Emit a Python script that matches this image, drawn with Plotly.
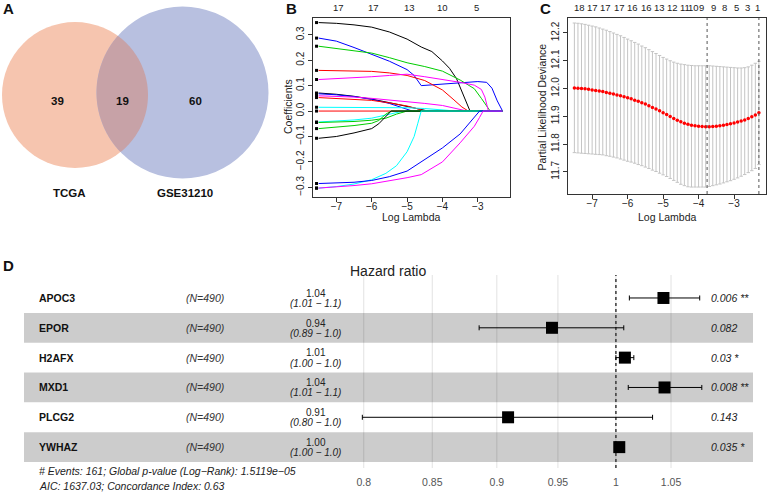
import math
import plotly.graph_objects as go

W, H = 768, 493
FONT = "Liberation Sans, Arial, Helvetica, sans-serif"

# ---------------- Panel A: Venn ----------------
venn_labels = ["TCGA", "GSE31210"]
venn_counts = [39, 19, 60]          # TCGA only, shared, GSE31210 only

# ---------------- Panel B: LASSO coefficient paths ----------------
lasso_x = [
    [-7.5, -7.0, -6.5, -6.0, -5.5, -5.0, -4.6, -4.3, -4.0, -3.8, -3.6, -3.45, -3.3, -3.22, -2.3],
    [-7.5, -7.0, -6.5, -6.0, -5.5, -5.0, -4.8, -4.6, -4.5, -4.0, -3.5, -3.0, -2.75, -2.6, -2.45, -2.3],
    [-7.5, -7.0, -6.5, -6.0, -5.5, -5.0, -4.5, -4.0, -3.5, -3.1, -2.9, -2.65, -2.3],
    [-7.5, -7.0, -6.5, -6.0, -5.5, -5.0, -4.5, -4.0, -3.7, -3.45, -3.27, -2.3],
    [-7.5, -7.0, -6.5, -6.0, -5.5, -5.0, -4.5, -4.0, -3.5, -3.1, -2.9, -2.8, -2.7, -2.3],
    [-7.5, -7.0, -6.5, -6.0, -5.5, -5.0, -4.7, -4.4, -2.3],
    [-7.5, -7.0, -6.5, -6.0, -5.5, -5.2, -4.85, -2.3],
    [-7.5, -7.0, -6.5, -6.0, -5.5, -5.0, -4.5, -4.0, -3.6, -3.3, -2.3],
    [-7.5, -7.0, -6.5, -6.0, -5.5, -5.0, -4.6, -4.5, -2.3],
    [-7.5, -6.0, -5.0, -4.5, -4.0, -3.6, -2.3],
    [-7.5, -2.3],
    [-7.5, -7.0, -6.5, -6.0, -5.6, -5.3, -5.1, -2.3],
    [-7.5, -7.0, -6.5, -6.0, -5.6, -5.3, -5.0, -2.3],
    [-7.5, -7.0, -6.5, -6.0, -5.8, -5.6, -5.45, -2.3],
    [-7.5, -7.0, -6.5, -6.0, -5.8, -5.6, -5.45, -2.3],
    [-7.5, -7.0, -6.5, -6.0, -5.6, -5.3, -5.0, -4.8, -4.7, -4.6, -2.3],
    [-7.5, -7.0, -6.5, -6.0, -5.5, -5.0, -4.6, -4.0, -3.5, -3.2, -2.95, -2.3],
    [-7.5, -7.0, -6.5, -6.0, -5.5, -5.0, -4.6, -4.0, -3.5, -3.1, -2.95, -2.85, -2.3],
]
lasso_y = [
    [0.348, 0.345, 0.339, 0.330, 0.311, 0.283, 0.252, 0.234, 0.197, 0.168, 0.127, 0.078, 0.025, 0.0, 0.0],
    [0.287, 0.275, 0.250, 0.224, 0.196, 0.163, 0.140, 0.100, 0.101, 0.107, 0.112, 0.116, 0.113, 0.090, 0.040, 0.0],
    [0.255, 0.247, 0.238, 0.228, 0.210, 0.190, 0.175, 0.157, 0.122, 0.088, 0.050, 0.0, 0.0],
    [0.160, 0.159, 0.158, 0.156, 0.150, 0.140, 0.120, 0.083, 0.047, 0.016, 0.0, 0.0],
    [0.124, 0.127, 0.131, 0.135, 0.140, 0.145, 0.135, 0.125, 0.113, 0.102, 0.085, 0.055, 0.0, 0.0],
    [0.071, 0.066, 0.058, 0.047, 0.033, 0.018, 0.010, 0.0, 0.0],
    [0.068, 0.064, 0.057, 0.046, 0.030, 0.015, 0.0, 0.0],
    [0.060, 0.058, 0.055, 0.050, 0.044, 0.037, 0.030, 0.022, 0.010, 0.0, 0.0],
    [0.053, 0.050, 0.047, 0.042, 0.032, 0.020, 0.005, 0.0, 0.0],
    [0.015, 0.014, 0.013, 0.010, 0.006, 0.0, 0.0],
    [0.0, 0.0],
    [-0.043, -0.040, -0.035, -0.028, -0.015, -0.004, 0.0, 0.0],
    [-0.045, -0.044, -0.041, -0.036, -0.028, -0.012, 0.0, 0.0],
    [-0.069, -0.064, -0.057, -0.048, -0.037, -0.012, 0.0, 0.0],
    [-0.107, -0.100, -0.086, -0.069, -0.050, -0.020, 0.0, 0.0],
    [-0.303, -0.297, -0.287, -0.270, -0.245, -0.215, -0.160, -0.100, -0.050, 0.0, 0.0],
    [-0.285, -0.283, -0.280, -0.273, -0.258, -0.236, -0.200, -0.145, -0.090, -0.040, 0.0, 0.0],
    [-0.303, -0.299, -0.293, -0.286, -0.275, -0.262, -0.250, -0.200, -0.125, -0.060, -0.025, 0.0, 0.0],
]
lasso_colors = ["black", "blue", "#00CD00", "red", "magenta", "black", "blue", "magenta",
                "red", "cyan", "red", "cyan", "#00CD00", "#00CD00", "black", "cyan", "blue", "magenta"]
lasso_top_pos = [-6.94, -5.96, -4.92, -3.99, -3.03]
lasso_top_df = ["17", "17", "13", "10", "5"]

# ---------------- Panel C: cross-validation curve ----------------
cv_loglambda = [-7.5, -7.4, -7.3, -7.2, -7.1, -7.0, -6.9, -6.8, -6.7, -6.6,
                -6.5, -6.4, -6.3, -6.2, -6.1, -6.0, -5.9, -5.8, -5.7, -5.6,
                -5.5, -5.4, -5.3, -5.2, -5.1, -5.0, -4.9, -4.8, -4.7, -4.6,
                -4.5, -4.4, -4.3, -4.2, -4.1, -4.0, -3.9, -3.8, -3.7, -3.6,
                -3.5, -3.4, -3.3, -3.2, -3.1, -3.0, -2.9, -2.8, -2.7, -2.6,
                -2.5, -2.4, -2.3]
cv_mean = [12.002, 12.001, 12.000, 11.999, 11.997, 11.995, 11.993, 11.991, 11.989, 11.986,
           11.983, 11.980, 11.977, 11.974, 11.970, 11.967, 11.963, 11.958, 11.954, 11.949,
           11.944, 11.938, 11.932, 11.926, 11.920, 11.913, 11.906, 11.899, 11.892, 11.886,
           11.880, 11.875, 11.871, 11.868, 11.866, 11.864, 11.863, 11.862, 11.862, 11.863,
           11.864, 11.866, 11.868, 11.870, 11.873, 11.876, 11.879, 11.883, 11.887, 11.892,
           11.898, 11.905, 11.913]
cv_upper = [12.236, 12.235, 12.233, 12.231, 12.228, 12.225, 12.222, 12.218, 12.214, 12.210,
            12.205, 12.200, 12.195, 12.190, 12.184, 12.178, 12.172, 12.166, 12.160, 12.153,
            12.147, 12.140, 12.133, 12.126, 12.119, 12.112, 12.106, 12.100, 12.095, 12.091,
            12.088, 12.086, 12.084, 12.083, 12.082, 12.082, 12.082, 12.082, 12.082, 12.081,
            12.080, 12.079, 12.078, 12.077, 12.076, 12.075, 12.074, 12.074, 12.075, 12.078,
            12.084, 12.091, 12.098]
cv_lower = [11.769, 11.768, 11.767, 11.766, 11.765, 11.764, 11.763, 11.762, 11.761, 11.758,
            11.756, 11.753, 11.750, 11.746, 11.742, 11.738, 11.735, 11.731, 11.726, 11.722,
            11.717, 11.712, 11.706, 11.701, 11.695, 11.689, 11.683, 11.676, 11.669, 11.662,
            11.655, 11.650, 11.646, 11.645, 11.645, 11.645, 11.645, 11.645, 11.647, 11.650,
            11.653, 11.656, 11.660, 11.664, 11.668, 11.673, 11.678, 11.684, 11.690, 11.697,
            11.704, 11.712, 11.726]
cv_top_pos = [-7.37, -6.98, -6.61, -6.23, -5.85, -5.48, -5.10, -4.73, -4.38, -4.13,
              -3.93, -3.58, -3.27, -2.94, -2.63, -2.33]
cv_top_nz = ["18", "17", "17", "17", "16", "16", "13", "12", "11", "10",
             "9", "9", "8", "5", "3", "1"]
log_lambda_min = -3.76
log_lambda_1se = -2.30

# ---------------- Panel D: forest plot ----------------
genes = ["APOC3", "EPOR", "H2AFX", "MXD1", "PLCG2", "YWHAZ"]
n_text = ["(N=490)", "(N=490)", "(N=490)", "(N=490)", "(N=490)", "(N=490)"]
hr = [1.043, 0.945, 1.008, 1.044, 0.909, 1.003]
ci_low = [1.012, 0.886, 1.000, 1.011, 0.799, 1.001]
ci_high = [1.077, 1.007, 1.016, 1.079, 1.033, 1.005]
hr_text = ["1.04", "0.94", "1.01", "1.04", "0.91", "1.00"]
ci_text = ["(1.01 − 1.1)", "(0.89 − 1.0)", "(1.00 − 1.0)", "(1.01 − 1.1)", "(0.80 − 1.0)", "(1.00 − 1.0)"]
p_text = ["0.006 **", "0.082", "0.03 *", "0.008 **", "0.143", "0.035 *"]
forest_ticks = [0.8, 0.85, 0.9, 0.95, 1, 1.05]
forest_ticktext = ["0.8", "0.85", "0.9", "0.95", "1", "1.05"]
footer_lines = ["# Events: 161; Global p-value (Log−Rank): 1.5119e−05",
                "AIC: 1637.03; Concordance Index: 0.63"]


def px(x):
    return x / W


def py(y):
    return 1 - y / H


def dom_x(a, b):
    return [a / W, b / W]


def dom_y(top, bottom):
    return [1 - bottom / H, 1 - top / H]


def note(x, y, text, size=10.5, color="#222", xref="paper", yref="paper", xanchor="center", **kw):
    return dict(x=x, y=y, xref=xref, yref=yref, text=text, showarrow=False,
                xanchor=xanchor, yanchor="middle",
                font=dict(size=size, color=color, family=FONT), **kw)


fig = go.Figure()
shapes = []
ann = []

# ---- Panel A ----
c1 = (75.0, 95.0, 73.0)
c2 = (182.5, 92.5, 86.0)
col_left = "#F6C5AF"
col_right = "#B8C0E0"
col_both = "#C7A2A7"
for (cx, cy, r), col in [(c1, col_left), (c2, col_right)]:
    shapes.append(dict(type="circle", xref="x", yref="y", x0=cx - r, x1=cx + r,
                       y0=cy - r, y1=cy + r, fillcolor=col, line=dict(width=0), layer="below"))
dx, dy = c2[0] - c1[0], c2[1] - c1[1]
d = math.hypot(dx, dy)
a = (c1[2] ** 2 - c2[2] ** 2 + d ** 2) / (2 * d)
th1 = math.acos(a / c1[2])
th2 = math.acos((d - a) / c2[2])
alpha = math.atan2(dy, dx)
beta = alpha + math.pi
pts = []
n = 60
for i in range(n + 1):
    phi = alpha - th1 + 2 * th1 * i / n
    pts.append((c1[0] + c1[2] * math.cos(phi), c1[1] + c1[2] * math.sin(phi)))
for i in range(n + 1):
    phi = beta - th2 + 2 * th2 * i / n
    pts.append((c2[0] + c2[2] * math.cos(phi), c2[1] + c2[2] * math.sin(phi)))
path = "M " + " L ".join(f"{x:.2f},{y:.2f}" for x, y in pts) + " Z"
shapes.append(dict(type="path", xref="x", yref="y", path=path, fillcolor=col_both,
                   line=dict(width=0), layer="below"))

count_x = [c1[0] - 18, (c1[0] + c1[2] + c2[0] - c2[2]) / 2, c2[0] + 13]
for xx, v in zip(count_x, venn_counts):
    ann.append(note(xx, 101, f"<b>{v}</b>", size=11.5, color="#111", xref="x", yref="y"))
for xx, lab in zip([69, 185], venn_labels):
    ann.append(note(xx, 193, f"<b>{lab}</b>", size=11.5, color="#111", xref="x", yref="y"))
fig.add_trace(go.Scatter(x=[0], y=[0], mode="markers", marker=dict(opacity=0),
                         xaxis="x", yaxis="y", hoverinfo="skip", showlegend=False))

# ---- Panel B ----
for xs, ys, col in zip(lasso_x, lasso_y, lasso_colors):
    fig.add_trace(go.Scatter(x=xs, y=ys, mode="lines", line=dict(color=col, width=1),
                             xaxis="x2", yaxis="y2", showlegend=False, hoverinfo="skip"))
fig.add_trace(go.Scatter(x=[xs[0] - 0.06 for xs in lasso_x], y=[ys[0] for ys in lasso_y],
                         mode="markers", marker=dict(symbol="square", size=3, color="black"),
                         xaxis="x2", yaxis="y2", showlegend=False, hoverinfo="skip"))
for pos, t in zip(lasso_top_pos, lasso_top_df):
    ann.append(note(pos, py(7), t, size=9.5, xref="x2"))

# ---- Panel C ----
fig.add_trace(go.Scatter(
    x=cv_loglambda, y=cv_mean, mode="markers",
    marker=dict(color="red", size=3.5),
    error_y=dict(type="data", symmetric=False,
                 array=[u - m for u, m in zip(cv_upper, cv_mean)],
                 arrayminus=[m - l for m, l in zip(cv_mean, cv_lower)],
                 color="#C4C4C4", thickness=1, width=1.7),
    xaxis="x3", yaxis="y3", showlegend=False, hoverinfo="skip"))
for v in [log_lambda_min, log_lambda_1se]:
    shapes.append(dict(type="line", xref="x3", yref="paper", x0=v, x1=v, y0=py(194), y1=py(18),
                       line=dict(color="#555", width=1, dash="dot")))
for pos, t in zip(cv_top_pos, cv_top_nz):
    ann.append(note(pos, py(7), t, size=9.5, xref="x3"))

# ---- Panel D ----
rows = list(range(len(genes)))
for t in forest_ticks:
    shapes.append(dict(type="line", xref="x4", yref="paper", x0=t, x1=t, y0=py(468), y1=py(275),
                       line=dict(color="#E2E2E2", width=1), layer="below"))
for i in rows:
    if i % 2 == 1:
        shapes.append(dict(type="rect", xref="paper", yref="y4", x0=px(24), x1=px(753),
                           y0=i - 0.5, y1=i + 0.5, fillcolor="rgba(0,0,0,0.2)",
                           line=dict(width=0), layer="below"))
shapes.append(dict(type="line", xref="x4", yref="paper", x0=1, x1=1, y0=py(468), y1=py(275),
                   line=dict(color="#444", width=1.6, dash="dot"), layer="below"))
fig.add_trace(go.Scatter(
    x=hr, y=rows, mode="markers",
    marker=dict(symbol="square", size=12, color="black"),
    error_x=dict(type="data", symmetric=False,
                 array=[h - m for h, m in zip(ci_high, hr)],
                 arrayminus=[m - l for m, l in zip(hr, ci_low)],
                 color="black", thickness=1, width=2.5),
    xaxis="x4", yaxis="y4", showlegend=False, hoverinfo="skip"))

for i, g in enumerate(genes):
    ann.append(note(px(37), i, f"<b>{g}</b>", color="#111", yref="y4", xanchor="left"))
    ann.append(note(px(205), i, f"<i>{n_text[i]}</i>", color="#333", yref="y4"))
    ann.append(note(px(316), i - 0.16, hr_text[i], size=10, yref="y4"))
    ann.append(note(px(315), i + 0.18, f"<i>{ci_text[i]}</i>", size=10, yref="y4"))
    ann.append(note(px(709), i, f"<i>{p_text[i]}</i>", yref="y4", xanchor="left"))
for k, line in enumerate(footer_lines):
    ann.append(note(px(37), py(471 + 15 * k), f"<i>{line}</i>", xanchor="left"))
ann.append(note(px(388), py(271), "Hazard ratio", size=14))

ann.append(note(px(411.5), py(217), "Log Lambda"))
ann.append(note(px(288), py(107), "Coefficients", textangle=-90))
ann.append(note(px(667), py(217), "Log Lambda"))
ann.append(note(px(541.5), py(107), "Partial Likelihood Deviance", textangle=-90))
for letter, (lx, ly) in zip("ABCD", [(8, 9), (291, 9), (545, 9), (8, 265)]):
    ann.append(note(px(lx), py(ly), f"<b>{letter}</b>", size=15, color="#111"))

r_axis = dict(showline=True, mirror=True, linecolor="#333", linewidth=1, ticks="outside",
              ticklen=4, tickcolor="#333", tickfont=dict(size=10, color="#222", family=FONT),
              showgrid=False, zeroline=False, fixedrange=True, automargin=False)
neg = lambda v: f"{v:g}".replace("-", "−")

fig.update_layout(
    width=W, height=H, margin=dict(l=0, r=0, t=0, b=0, autoexpand=False),
    paper_bgcolor="white", plot_bgcolor="rgba(0,0,0,0)", template="none",
    font=dict(family=FONT),
    xaxis=dict(domain=dom_x(0, 280), range=[0, 280], visible=False, fixedrange=True),
    yaxis=dict(domain=dom_y(0, 220), range=[220, 0], visible=False, fixedrange=True),
    xaxis2=dict(domain=dom_x(313, 510), range=[-7.66, -2.09], anchor="y2", ticklabelstandoff=-4,
                tickvals=[-7, -6, -5, -4, -3], ticktext=[neg(v) for v in [-7, -6, -5, -4, -3]], **r_axis),
    yaxis2=dict(domain=dom_y(18, 197), range=[-0.338, 0.366], anchor="x2", tickangle=-90,
                tickvals=[-0.3, -0.2, -0.1, 0, 0.1, 0.2, 0.3],
                ticktext=["−0.3", "−0.2", "−0.1", "0.0", "0.1", "0.2", "0.3"], **r_axis),
    xaxis3=dict(domain=dom_x(568, 766), range=[-7.68, -2.10], anchor="y3", ticklabelstandoff=-4,
                tickvals=[-7, -6, -5, -4, -3], ticktext=[neg(v) for v in [-7, -6, -5, -4, -3]], **r_axis),
    yaxis3=dict(domain=dom_y(18, 194), range=[11.62, 12.254], anchor="x3", tickangle=-90,
                tickvals=[11.7, 11.8, 11.9, 12.0, 12.1, 12.2],
                ticktext=["11.7", "11.8", "11.9", "12.0", "12.1", "12.2"], **r_axis),
    xaxis4=dict(domain=dom_x(24, 753), type="log", range=[-0.2275, 0.0527], anchor="y4",
                tickvals=forest_ticks, ticktext=forest_ticktext, showgrid=False,
                ticks="outside", ticklen=4, tickcolor="rgba(0,0,0,0)", automargin=False,
                tickfont=dict(size=10.5, color="#555", family=FONT), showline=False,
                zeroline=False, fixedrange=True),
    yaxis4=dict(domain=dom_y(275, 468), range=[5.70, -0.77], anchor="x4", visible=False,
                fixedrange=True),
    shapes=shapes, annotations=ann,
)

fig.write_html("out.html", config={"displayModeBar": False},
               post_script="document.body.style.margin='0px';")
